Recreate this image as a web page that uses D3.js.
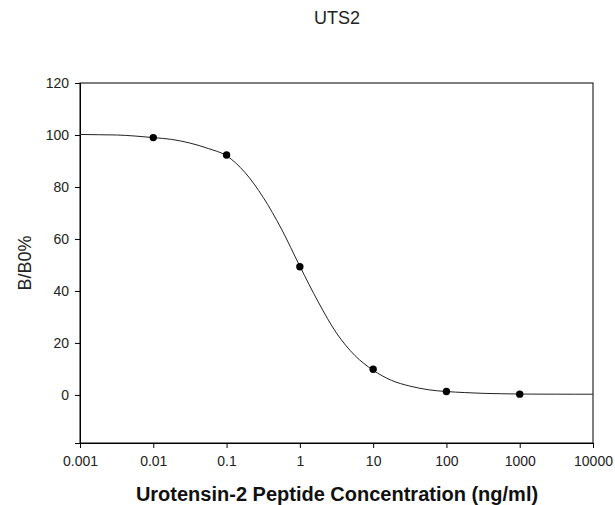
<!DOCTYPE html>
<html><head><meta charset="utf-8">
<script src="https://cdn.jsdelivr.net/npm/d3@7"></script>
<style>body{margin:0;background:#fff}svg{display:block}</style>
</head><body>
<script>
const titleText = "UTS2";
const xLabel = "Urotensin-2 Peptide Concentration (ng/ml)";
const yLabel = "B/B0%";
const xTicks = [0.001, 0.01, 0.1, 1, 10, 100, 1000, 10000];
const xTickLabels = ["0.001", "0.01", "0.1", "1", "10", "100", "1000", "10000"];
const yTicks = [0, 20, 40, 60, 80, 100, 120];
const pointX = [0.01, 0.1, 1, 10, 100, 1000];
const pointY = [99.0, 92.3, 49.3, 9.9, 1.3, 0.3];
const curveX = [0.001, 0.00178, 0.00316, 0.00562, 0.01, 0.0178, 0.0316, 0.0562, 0.1, 0.178, 0.316, 0.562, 1, 1.78, 3.16, 5.62, 10, 17.8, 31.6, 56.2, 100, 178, 316, 562, 1000, 1780, 3160, 5620, 10000];
const curveY = [100.2, 100.1, 100.0, 99.6, 99.0, 98.3, 96.9, 94.8, 92.0, 85.6, 76.0, 63.8, 49.5, 35.8, 23.8, 15.2, 9.5, 5.6, 3.4, 2.0, 1.3, 0.9, 0.6, 0.45, 0.35, 0.3, 0.28, 0.27, 0.27];

const W = 615, H = 505;
const m = {left: 80, right: 22, top: 83, bottom: 62};
const svg = d3.select("body").append("svg").attr("width", W).attr("height", H);
const x = d3.scaleLog().domain([0.001, 10000]).range([m.left, W - m.right]);
const y = d3.scaleLinear().domain([-18.5, 120]).range([H - m.bottom, m.top]);
const font = "Liberation Sans, Arial, sans-serif";

svg.append("rect").attr("x", m.left).attr("y", m.top)
  .attr("width", W - m.left - m.right).attr("height", H - m.top - m.bottom)
  .attr("fill", "none").attr("stroke", "#000").attr("stroke-width", 1);

const xa = svg.append("g").attr("transform", `translate(0,${H - m.bottom})`)
  .call(d3.axisBottom(x).tickValues(xTicks).tickFormat((d, i) => xTickLabels[i]).tickSize(5).tickPadding(8));
const ya = svg.append("g").attr("transform", `translate(${m.left},0)`)
  .call(d3.axisLeft(y).tickValues(yTicks).tickSize(5).tickPadding(6));
[xa, ya].forEach(a => {
  a.select(".domain").attr("stroke", "#000");
  a.selectAll(".tick line").attr("stroke", "#000");
  a.selectAll("text").attr("font-family", font).attr("font-size", 14).attr("fill", "#222");
});

const line = d3.line().x((d, i) => x(curveX[i])).y((d, i) => y(curveY[i])).curve(d3.curveMonotoneX);
svg.append("path").datum(curveY).attr("d", line).attr("fill", "none")
  .attr("stroke", "#222").attr("stroke-width", 1);

svg.selectAll("circle.pt").data(pointY).enter().append("circle")
  .attr("cx", (d, i) => x(pointX[i])).attr("cy", d => y(d)).attr("r", 3.7).attr("fill", "#000");

svg.append("text").attr("x", 337).attr("y", 24).attr("text-anchor", "middle")
  .attr("font-family", font).attr("font-size", 18).attr("fill", "#222").text(titleText);
svg.append("text").attr("x", 337).attr("y", 501).attr("text-anchor", "middle")
  .attr("font-family", font).attr("font-size", 20).attr("font-weight", "bold").attr("fill", "#111").text(xLabel);
svg.append("text").attr("transform", `translate(31,263) rotate(-90)`)
  .attr("text-anchor", "middle").attr("font-family", font).attr("font-size", 18).attr("fill", "#222").text(yLabel);
</script>
</body></html>
